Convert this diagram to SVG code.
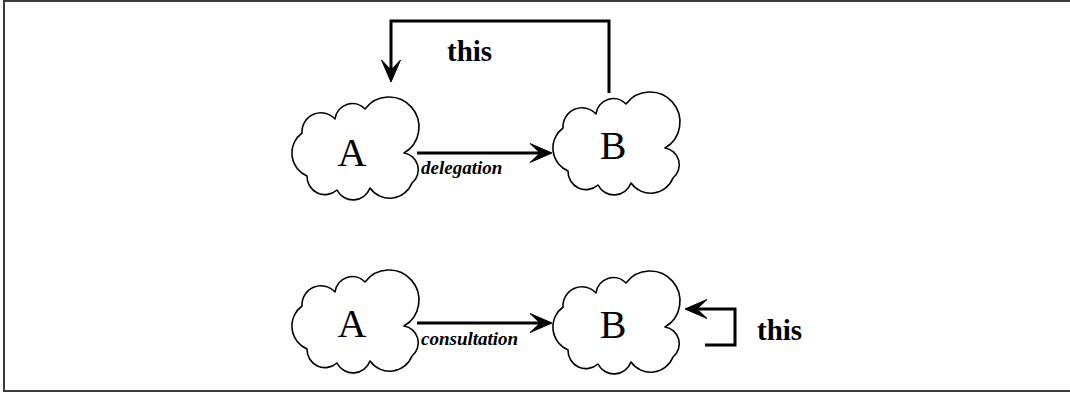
<svg xmlns="http://www.w3.org/2000/svg" xmlns:xlink="http://www.w3.org/1999/xlink" width="1070" height="394" viewBox="0 0 1070 394">
  <style>
    .frame { fill: #fff; stroke: #3a3a3a; stroke-width: 2; }
    .cloud { fill: #fff; stroke: #000; stroke-width: 1.6; stroke-linejoin: round; }
    .letter { font-family: "Liberation Serif", "Times New Roman", serif; font-size: 40px; fill: #000; text-anchor: middle; }
    .self { font-family: "Liberation Serif", "Times New Roman", serif; font-size: 29px; font-weight: bold; fill: #000; }
    .label { font-family: "Liberation Serif", "Times New Roman", serif; font-size: 19px; font-weight: bold; font-style: italic; fill: #000; }
    .wire { fill: none; stroke: #000; stroke-width: 3; }
  </style>
  <defs>
    <!-- cloud outline centred on the origin -->
    <path id="cloud" d="M -53,-15 A19,19 0 0 1 -20,-29 A17.5,17.5 0 0 1 10,-39 A30,30 0 1 1 49,5 A17,17 0 0 1 57,35 A24,24 0 0 1 15,40 A18,18 0 0 1 -18,42 A18,18 0 0 1 -48,28 A25,25 0 0 1 -53,-15 Z"/>
    <!-- barbed arrowhead; the wire stops 10px short of the tip -->
    <marker id="head" markerUnits="userSpaceOnUse" viewBox="-25 -11 27 22" markerWidth="27" markerHeight="22" refX="-10" refY="0" orient="auto" overflow="visible">
      <path d="M0,0 L-22,-9.5 L-12,0 L-22,9.5 Z" fill="#000" stroke="#000" stroke-width="1" stroke-linejoin="miter"/>
    </marker>
  </defs>

  <rect class="frame" x="4" y="1" width="1080" height="390"/>

  <g id="connectors">
    <!-- top: delegation, with the self reference routed back to A -->
    <path class="wire" d="M417,153 H542" marker-end="url(#head)"/>
    <path class="wire" d="M609,93 V21 H391 V72" marker-end="url(#head)"/>
    <!-- bottom: consultation, with the self reference returned to B -->
    <path class="wire" d="M417,323 H542" marker-end="url(#head)"/>
    <path class="wire" d="M705,345 H735 V309 H695" marker-end="url(#head)"/>
    <text class="label" x="421" y="174">delegation</text>
    <text class="label" x="421" y="345">consultation</text>
    <text class="self" x="447" y="61">this</text>
    <text class="self" x="757" y="340">this</text>
  </g>

  <g id="delegation-a">
    <use xlink:href="#cloud" class="cloud" transform="translate(355,148)"/>
    <text class="letter" x="352" y="166">A</text>
  </g>
  <g id="delegation-b">
    <use xlink:href="#cloud" class="cloud" transform="translate(616,143)"/>
    <text class="letter" x="613" y="159">B</text>
  </g>
  <g id="consultation-a">
    <use xlink:href="#cloud" class="cloud" transform="translate(355,321)"/>
    <text class="letter" x="352" y="337">A</text>
  </g>
  <g id="consultation-b">
    <use xlink:href="#cloud" class="cloud" transform="translate(616,322)"/>
    <text class="letter" x="613" y="338">B</text>
  </g>
</svg>
